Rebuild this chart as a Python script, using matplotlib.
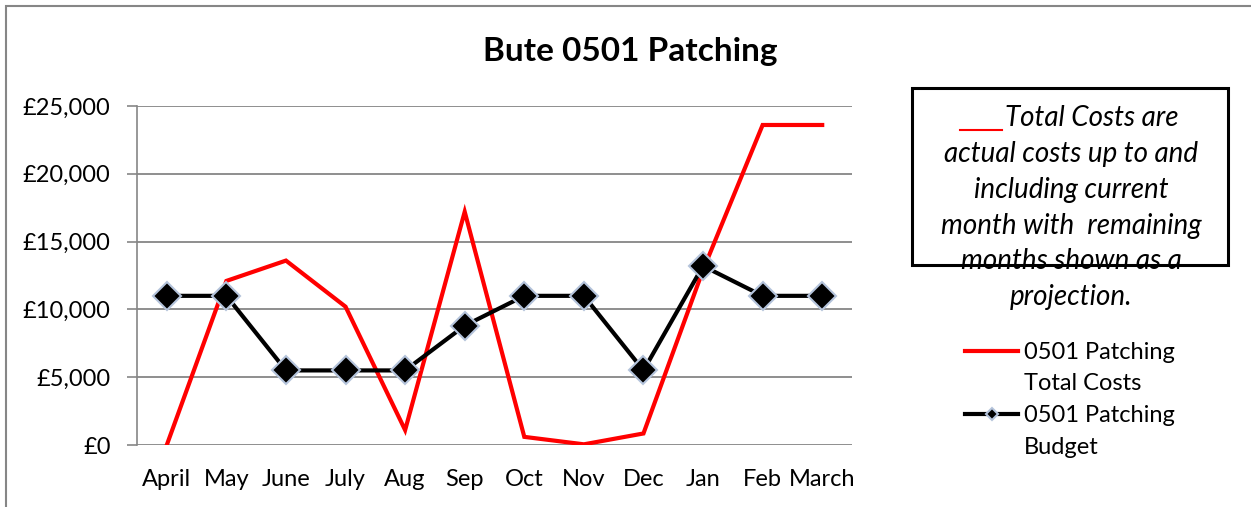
import matplotlib.pyplot as plt
from matplotlib.lines import Line2D
from matplotlib.patches import Rectangle
from matplotlib.ticker import FuncFormatter

plt.rcParams['font.family'] = ['Lato', 'DejaVu Sans']

months = ['April', 'May', 'June', 'July', 'Aug', 'Sep', 'Oct', 'Nov', 'Dec', 'Jan', 'Feb', 'March']
total_costs = [0, 12100, 13600, 10200, 1100, 17200, 600, 50, 850, 12900, 23600, 23600]
budget = [11000, 11000, 5500, 5500, 5500, 8800, 11000, 11000, 5500, 13200, 11000, 11000]

W, H = 1251, 507
fig = plt.figure(figsize=(W / 100, H / 100), dpi=100)
ax = fig.add_axes([137 / W, 1 - 445 / H, (852 - 137) / W, (445 - 106) / H])

x = range(len(months))
red, = ax.plot(x, total_costs, color='#ff0000', lw=3, solid_joinstyle='miter', zorder=3)
blk, = ax.plot(x, budget, color='black', lw=3, marker='D', ms=14,
               mfc='black', mec='#b4c3db', mew=1.5, zorder=4)

ax.set_xlim(-0.5, len(months) - 0.5)
ax.set_ylim(0, 25000)
ax.set_yticks(range(0, 25001, 5000))
ax.yaxis.set_major_formatter(FuncFormatter(lambda v, p: '£{:,.0f}'.format(v)))
ax.set_xticks(list(x))
ax.set_xticklabels(months)
ax.tick_params(axis='y', length=7, color='#868686', width=1.2, labelsize=17, pad=12)
ax.tick_params(axis='x', length=0, labelsize=17, pad=17)
ax.grid(axis='y', color='#868686', lw=1.3)
ax.set_axisbelow(True)
for s in ['top', 'right', 'bottom']:
    ax.spines[s].set_visible(False)
ax.spines['left'].set_color('#868686')
ax.spines['left'].set_linewidth(1.2)

fig.text(630 / W, 1 - 52 / H, 'Bute 0501 Patching', ha='center', va='center',
         fontsize=24, fontweight='bold')

# outer chart border
fig.patches.append(Rectangle((6 / W, -0.1), 1.2, 1 - 6 / H + 0.1, transform=fig.transFigure,
                             fill=False, ec='#868686', lw=1.5))

# note box
fig.patches.append(Rectangle((912 / W, 1 - 265 / H), (1228 - 912) / W, (265 - 88) / H,
                             transform=fig.transFigure, fill=False, ec='black', lw=2.2, zorder=5))
note_kw = dict(ha='center', va='center', fontsize=20, style='italic')
fig.text(1092 / W, 1 - 118 / H, 'Total Costs are', **note_kw)
fig.lines.append(Line2D([960 / W, 1002 / W], [1 - 130 / H, 1 - 130 / H],
                        transform=fig.transFigure, color='#ff0000', lw=1.5))
note_lines = ['actual costs up to and', 'including current', 'month with  remaining',
              'months shown as a', 'projection.']
for i, t in enumerate(note_lines):
    fig.text(1071 / W, 1 - (154 + 35.8 * i) / H, t, **note_kw)

fig.legend([red, blk], ['0501 Patching', '0501 Patching'],
           loc='upper left', bbox_to_anchor=(965 / W, 1 - 342 / H), frameon=False,
           fontsize=17, handlelength=2.25, handletextpad=0.25, labelspacing=1.8,
           markerscale=0.45, borderpad=0, borderaxespad=0)
fig.text(1024 / W, 1 - 383 / H, 'Total Costs', ha='left', va='center', fontsize=17)
fig.text(1024 / W, 1 - 447 / H, 'Budget', ha='left', va='center', fontsize=17)

fig.savefig('out.png', dpi=100)
